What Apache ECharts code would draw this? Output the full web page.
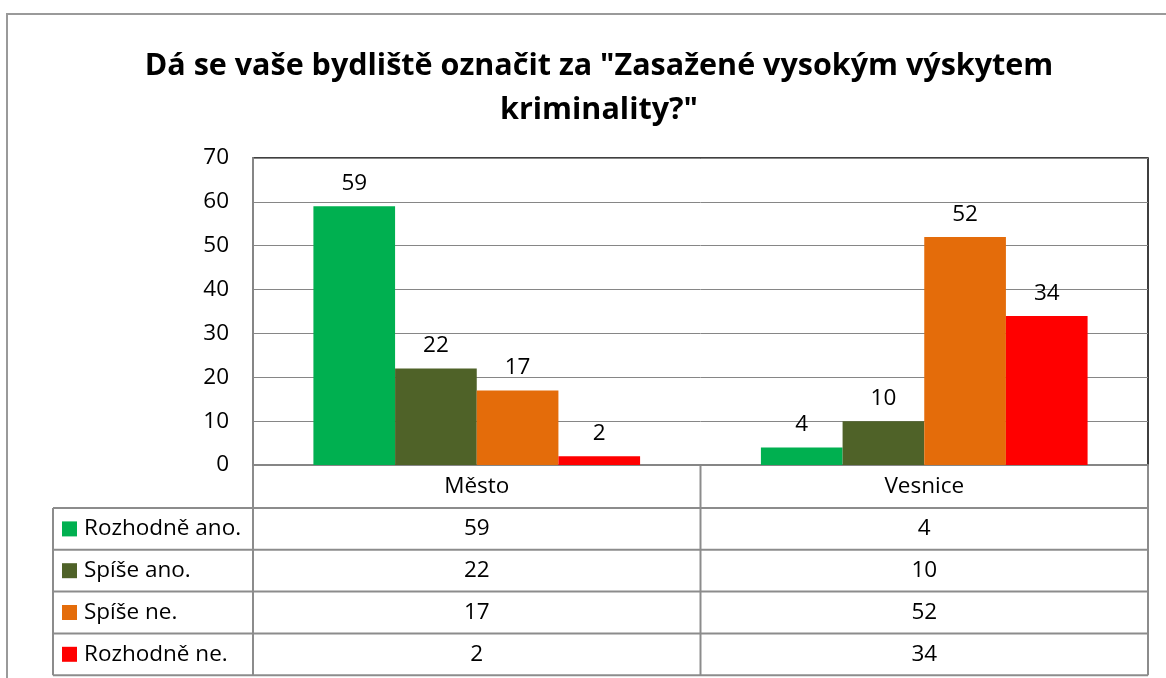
<!DOCTYPE html>
<html>
<head>
<meta charset="utf-8">
<script src="https://cdn.jsdelivr.net/npm/echarts@6/dist/echarts.min.js"></script>
<style>
html, body { margin: 0; padding: 0; background: #fff; }
#chart { width: 1166px; height: 678px; }
</style>
</head>
<body>
<div id="chart"></div>
<script>
var categories = ['Město', 'Vesnice'];
var seriesNames = ['Rozhodně ano.', 'Spíše ano.', 'Spíše ne.', 'Rozhodně ne.'];
var rozhodneAno = [59, 4];
var spiseAno = [22, 10];
var spiseNe = [17, 52];
var rozhodneNe = [2, 34];
var yTicks = [0, 10, 20, 30, 40, 50, 60, 70];

var colors = ['#00B050', '#4F6228', '#E46C0A', '#FF0000'];
var values = [rozhodneAno, spiseAno, spiseNe, rozhodneNe];
var font = '"Open Sans", Lato, sans-serif';
var fs = 22.5;

var chart = echarts.init(document.getElementById('chart'));

// plot box
var gLeft = 253, gTop = 158, gRight = 1148, gBottom = 465;
var tableLeft = 53, headerH = 43, rowH = 41.8;

var series = values.map(function (v, i) {
    return {
        name: seriesNames[i],
        type: 'bar',
        data: v,
        barGap: '0%',
        barCategoryGap: '27%',
        itemStyle: { color: colors[i] },
        label: {
            show: true,
            position: 'top',
            distance: 11,
            color: '#000',
            fontSize: fs,
            fontFamily: font
        }
    };
});

chart.setOption({
    animation: false,
    title: {
        text: 'Dá se vaše bydliště označit za "Zasažené vysokým výskytem\nkriminality?"',
        left: 594,
        top: 39,
        textAlign: 'center',
        textStyle: {
            fontFamily: font,
            fontWeight: 'bold',
            fontSize: 30.5,
            lineHeight: 44,
            color: '#000'
        }
    },
    grid: {
        left: gLeft,
        top: gTop,
        width: gRight - gLeft,
        height: gBottom - gTop,
        show: true,
        borderColor: '#000',
        borderWidth: 1.5
    },
    xAxis: {
        type: 'category',
        data: categories,
        axisLine: { lineStyle: { color: '#868686', width: 2 } },
        axisTick: { show: false },
        axisLabel: { show: false }
    },
    yAxis: {
        type: 'value',
        min: yTicks[0],
        max: yTicks[yTicks.length - 1],
        interval: 10,
        axisLine: { show: true, lineStyle: { color: '#868686', width: 2 } },
        axisTick: { show: false },
        splitLine: { lineStyle: { color: '#868686', width: 1 } },
        axisLabel: { color: '#000', fontSize: fs, fontFamily: font, margin: 24 }
    },
    series: series
});

// data table under the plot
var colEdges = [gLeft];
categories.forEach(function (c, i) {
    colEdges.push(i === categories.length - 1 ? gRight : (chart.convertToPixel({ xAxisIndex: 0 }, i) + chart.convertToPixel({ xAxisIndex: 0 }, i + 1)) / 2);
});
var graphics = [];
var lineStyle = { stroke: '#8c8c8c', lineWidth: 2 };
var tableBottom = gBottom + headerH + rowH * seriesNames.length;

// outer chart frame
graphics.push({ type: 'rect', shape: { x: 7, y: 14, width: 1200, height: 700 }, style: { fill: null, stroke: '#9a9a9a', lineWidth: 2 }, z: 0 });

colEdges.forEach(function (x) {
    graphics.push({ type: 'line', shape: { x1: x, y1: gBottom, x2: x, y2: tableBottom }, style: lineStyle });
});
graphics.push({ type: 'line', shape: { x1: tableLeft, y1: gBottom + headerH, x2: tableLeft, y2: tableBottom }, style: lineStyle });
for (var r = 0; r <= seriesNames.length; r++) {
    var y = gBottom + headerH + rowH * r;
    graphics.push({ type: 'line', shape: { x1: tableLeft, y1: y, x2: gRight, y2: y }, style: lineStyle });
}
categories.forEach(function (c, i) {
    graphics.push({
        type: 'text',
        style: { text: c, x: (colEdges[i] + colEdges[i + 1]) / 2, y: gBottom + headerH / 2, align: 'center', verticalAlign: 'middle', font: fs + 'px ' + font, fill: '#000' }
    });
});
seriesNames.forEach(function (name, r) {
    var cy = gBottom + headerH + rowH * r + rowH / 2;
    graphics.push({ type: 'rect', shape: { x: 62, y: cy - 7.5, width: 15, height: 15 }, style: { fill: colors[r] } });
    graphics.push({ type: 'text', style: { text: name, x: 84, y: cy, verticalAlign: 'middle', font: fs + 'px ' + font, fill: '#000' } });
    values[r].forEach(function (v, i) {
        graphics.push({
            type: 'text',
            style: { text: String(v), x: (colEdges[i] + colEdges[i + 1]) / 2, y: cy, align: 'center', verticalAlign: 'middle', font: fs + 'px ' + font, fill: '#000' }
        });
    });
});
chart.setOption({ graphic: graphics });
</script>
</body>
</html>
